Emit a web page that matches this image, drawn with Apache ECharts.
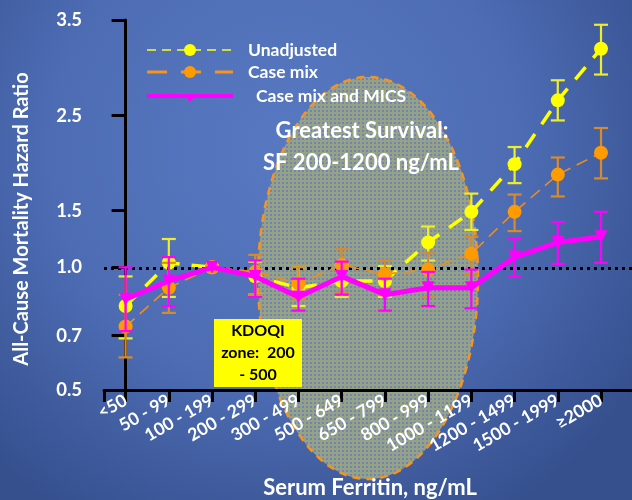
<!DOCTYPE html>
<html><head><meta charset="utf-8">
<script src="https://cdn.jsdelivr.net/npm/echarts@6/dist/echarts.min.js"></script>
<style>html,body{margin:0;padding:0;background:#4a66aa;}#c{width:632px;height:500px;}</style>
</head><body><div id="c"></div>
<script>
// ---- data ----
const categories = ['<50','50 - 99','100 - 199','200 - 299','300 - 499','500 - 649','650 - 799','800 - 999','1000 - 1199','1200 - 1499','1500 - 1999','≥2000'];
const unadj     = [0.83, 1.04, 1.00, 0.96, 0.91, 0.94, 0.94, 1.22, 1.49, 1.99, 2.66, 3.20];
const unadjLo   = [0.69, 0.87, null, 0.88, 0.83, 0.87, 0.87, 1.06, 1.33, 1.79, 2.45, 2.93];
const unadjHi   = [0.96, 1.25, null, 1.05, 1.00, 1.02, 1.01, 1.36, 1.68, 2.17, 2.87, 3.45];
const caseMix   = [0.74, 0.91, 1.00, 0.98, 0.93, 1.02, 0.97, 0.99, 1.12, 1.49, 1.88, 2.11];
const caseMixLo = [0.62, 0.80, null, 0.88, 0.86, 0.89, 0.88, 0.87, 0.97, 1.32, 1.65, 1.84];
const caseMixHi = [0.88, 1.04, null, 1.11, 1.00, 1.16, 1.06, 1.13, 1.27, 1.67, 2.06, 2.37];
const mics      = [0.86, 0.94, 1.00, 0.96, 0.87, 0.96, 0.88, 0.91, 0.91, 1.09, 1.22, 1.27];
const micsLo    = [0.72, 0.83, null, 0.87, 0.81, 0.88, 0.81, 0.83, 0.82, 0.96, 1.03, 1.04];
const micsHi    = [1.00, 1.09, null, 1.06, 0.95, 1.05, 0.95, 0.98, 0.99, 1.25, 1.40, 1.49];
const yTickValues = [0.5, 0.7, 1.0, 1.5, 2.5, 3.5];
const yTickLabels = ['0.5', '0.7', '1.0', '1.5', '2.5', '3.5'];
// ---- axis scale (non-uniform, piecewise between the labelled ticks) ----
const yScaleStops = [0, 0.1468, 0.3316, 0.4846, 0.7414, 1];
function ty(v){
  if (v == null) return null;
  for (let k = 0; k < yTickValues.length - 1; k++) {
    const a = yTickValues[k], b = yTickValues[k+1];
    if (v <= b || k === yTickValues.length - 2) {
      return yScaleStops[k] + (v - a) / (b - a) * (yScaleStops[k+1] - yScaleStops[k]);
    }
  }
}
const FONT = 'Lato, "Open Sans", sans-serif';
const YEL = '#ffff00', ORA = '#ff9a00', MAG = '#ff00ff';

function pts(arr){ return arr.map((v,i)=>[i, ty(v)]); }
function errs(lo, hi){ const out=[]; lo.forEach((v,i)=>{ if(v!=null && hi[i]!=null) out.push([i, ty(v), ty(hi[i])]); }); return out; }
function errSeries(lo, hi, color, z){
  return {
    type:'custom', z:z, silent:true,
    data: errs(lo, hi),
    renderItem: function(params, api){
      const x = api.value(0);
      const p1 = api.coord([x, api.value(1)]), p2 = api.coord([x, api.value(2)]);
      const w = 7;
      const st = {stroke: color, lineWidth: 2.2};
      return {type:'group', children:[
        {type:'line', shape:{x1:p1[0],y1:p1[1],x2:p2[0],y2:p2[1]}, style:st},
        {type:'line', shape:{x1:p1[0]-w,y1:p1[1],x2:p1[0]+w,y2:p1[1]}, style:st},
        {type:'line', shape:{x1:p2[0]-w,y1:p2[1],x2:p2[0]+w,y2:p2[1]}, style:st}
      ]};
    }
  };
}

// hatched pattern for the ellipse
const pc = document.createElement('canvas'); pc.width = 4; pc.height = 4;
const g = pc.getContext('2d');
g.fillStyle = '#6c84c0'; g.fillRect(0,0,4,4);
g.fillStyle = '#96a282'; g.fillRect(0,0,4,2); g.fillRect(0,0,2,4);

const chart = echarts.init(document.getElementById('c'), null, {renderer:'canvas'});
const yCustom = yTickValues.map(ty);
const option = {
  backgroundColor: {type:'radial', x:0.45, y:0.3, r:0.85, colorStops:[
    {offset:0, color:'#5879c2'}, {offset:0.55, color:'#4d6cb4'}, {offset:1, color:'#36508e'}]},
  animation:false,
  grid:{left:104, right:0, top:20, bottom:110},
  xAxis:{
    type:'value', min:-0.5, max:11.717,
    splitLine:{show:false},
    axisLine:{show:true, onZero:false, lineStyle:{color:'#000', width:3}},
    axisTick:{show:true, length:12, lineStyle:{color:'#000', width:3},
      customValues:[-0.5,0,1,2,3,4,5,6,7,8,9,10,11]},
    axisLabel:{customValues:[0,1,2,3,4,5,6,7,8,9,10,11], rotate:30, margin:9,
      color:'#fff', fontWeight:'bold', fontSize:17.5, fontFamily:FONT,
      formatter: v => categories[Math.round(v)] || ''}
  },
  yAxis:{
    type:'value', min:0, max:1,
    splitLine:{show:false},
    axisLine:{show:true, lineStyle:{color:'#000', width:3}},
    axisTick:{show:true, length:14, lineStyle:{color:'#000', width:3}, customValues:yCustom},
    axisLabel:{customValues:yCustom, margin:22, color:'#fff', fontWeight:'bold', fontSize:18.5, fontFamily:FONT,
      formatter: v => { let best=0; yCustom.forEach((c,k)=>{ if(Math.abs(c-v)<Math.abs(yCustom[best]-v)) best=k; }); return yTickLabels[best]; }}
  },
  graphic:[
    {type:'ellipse', z:-10, shape:{cx:368, cy:278, rx:110, ry:201},
      style:{fill:{image:pc, repeat:'repeat'}, stroke:'#f7941d', lineWidth:2.5, lineDash:[8,6]}},
    {type:'text', z:50, x:362, y:131, style:{text:'Greatest Survival:', fill:'#fff', font:'bold 22px '+FONT, textAlign:'center', textVerticalAlign:'middle'}},
    {type:'text', z:50, x:361, y:163, style:{text:'SF 200-1200 ng/mL', fill:'#fff', font:'bold 22px '+FONT, textAlign:'center', textVerticalAlign:'middle'}},
    {type:'rect', z:50, shape:{x:214, y:319, width:88, height:68}, style:{fill:'#ffff00'}},
    {type:'text', z:51, x:258, y:331, style:{text:'KDOQI', fill:'#000', font:'bold 16px '+FONT, textAlign:'center', textVerticalAlign:'middle'}},
    {type:'text', z:51, x:258, y:353, style:{text:'zone:  200', fill:'#000', font:'bold 16px '+FONT, textAlign:'center', textVerticalAlign:'middle'}},
    {type:'text', z:51, x:258, y:375, style:{text:'- 500', fill:'#000', font:'bold 16px '+FONT, textAlign:'center', textVerticalAlign:'middle'}},
    // legend
    {type:'line', z:50, shape:{x1:147,y1:50,x2:233,y2:50}, style:{stroke:'#d4dc3c', lineWidth:2, lineDash:[9,6]}},
    {type:'circle', z:51, shape:{cx:190, cy:50, r:6}, style:{fill:YEL}},
    {type:'text', z:51, x:248, y:50, style:{text:'Unadjusted', fill:'#fff', font:'bold 17.5px '+FONT, textVerticalAlign:'middle'}},
    {type:'line', z:50, shape:{x1:147,y1:72,x2:233,y2:72}, style:{stroke:'#f7941d', lineWidth:3, lineDash:[20,14]}},
    {type:'circle', z:51, shape:{cx:190, cy:72, r:6}, style:{fill:ORA}},
    {type:'text', z:51, x:248, y:72, style:{text:'Case mix', fill:'#fff', font:'bold 17.5px '+FONT, textVerticalAlign:'middle'}},
    {type:'line', z:50, shape:{x1:147,y1:96,x2:233,y2:96}, style:{stroke:MAG, lineWidth:4}},
    {type:'polygon', z:51, shape:{points:[[185,96],[195,96],[190,102]]}, style:{fill:MAG}},
    {type:'text', z:51, x:256, y:96, style:{text:'Case mix and MICS', fill:'#fff', font:'bold 17.5px '+FONT, textVerticalAlign:'middle'}},
    // axis titles
    {type:'text', z:51, x:22, y:219, rotation:Math.PI/2, style:{text:'All-Cause Mortality Hazard Ratio', fill:'#fff', font:'bold 20px '+FONT, textAlign:'center', textVerticalAlign:'middle'}},
    {type:'text', z:51, x:370, y:488, style:{text:'Serum Ferritin, ng/mL', fill:'#fff', font:'bold 22px '+FONT, textAlign:'center', textVerticalAlign:'middle'}}
  ],
  series:[
    {type:'line', name:'ref', data:[], z:1, silent:true,
      markLine:{silent:true, symbol:'none', label:{show:false},
        lineStyle:{color:'#000', width:3, type:[3,4]}, data:[{yAxis: ty(1.0)}]}},
    errSeries(unadjLo, unadjHi, '#eded2a', 3),
    {type:'line', name:'Unadjusted', data:pts(unadj), z:4, symbol:'circle', symbolSize:14,
      itemStyle:{color:YEL}, lineStyle:{color:YEL, width:3.5, type:[16,12]}},
    errSeries(caseMixLo, caseMixHi, '#d98a2b', 5),
    {type:'line', name:'Case mix', data:pts(caseMix), z:6, symbol:'circle', symbolSize:14,
      itemStyle:{color:ORA}, lineStyle:{color:'#f08c1c', width:1.6, type:[12,7]}},
    errSeries(micsLo, micsHi, MAG, 7),
    {type:'line', name:'Case mix and MICS', data:pts(mics), z:8, symbol:'triangle', symbolRotate:180, symbolSize:13,
      itemStyle:{color:MAG}, lineStyle:{color:MAG, width:5}}
  ]
};
chart.setOption(option);
</script></body></html>
